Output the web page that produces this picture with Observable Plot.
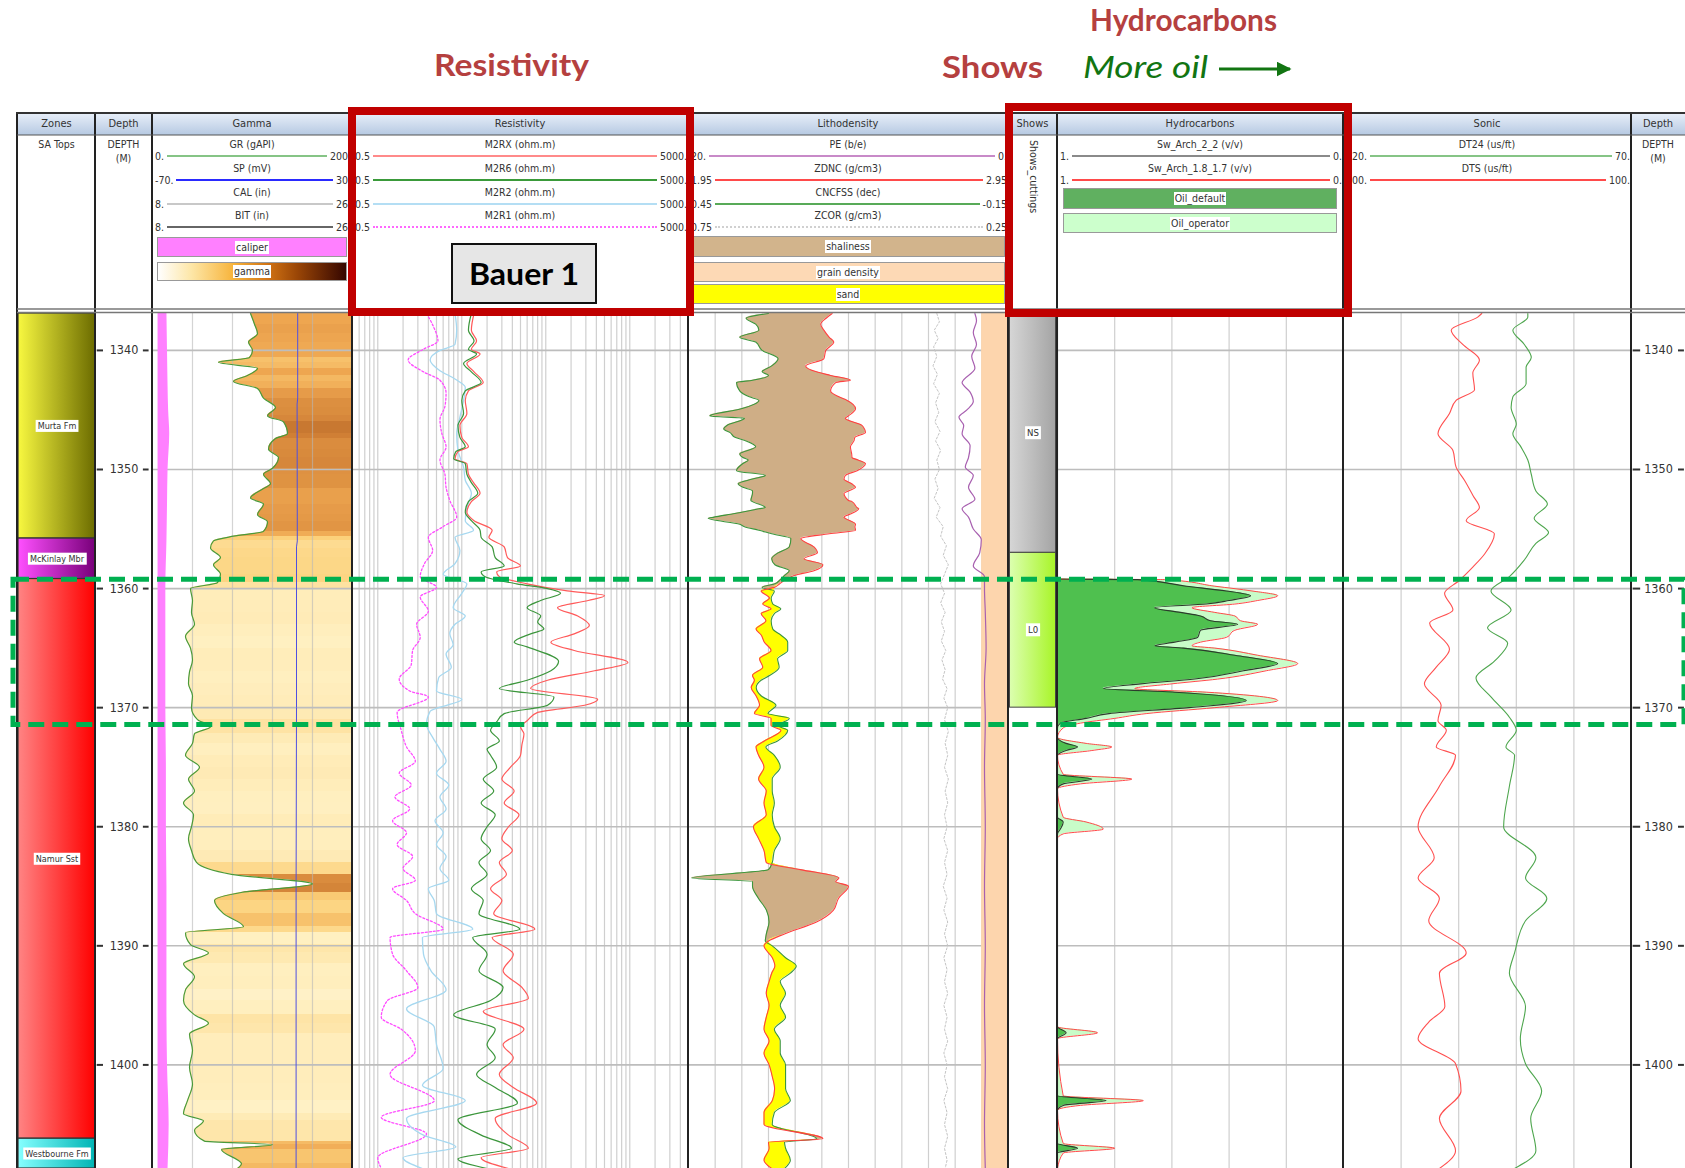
<!DOCTYPE html>
<html><head><meta charset="utf-8">
<script src="https://cdn.jsdelivr.net/npm/d3@7"></script>
<script src="https://cdn.jsdelivr.net/npm/@observablehq/plot@0.6"></script>
<style>
html,body{margin:0;padding:0;background:#fff}
#root{position:relative;width:1685px;height:1168px;overflow:hidden;background:#fff;font-family:"DejaVu Sans Condensed","DejaVu Sans",sans-serif;color:#333}
.a{position:absolute;box-sizing:border-box;white-space:nowrap}
.hd{background:linear-gradient(#e8eff9,#b6c9e2);font-size:11px;line-height:22px;text-align:center;color:#333}
.t{font-size:10.5px;text-align:center;color:#333}
.lr{display:flex;align-items:center;font-size:10.5px;color:#333}
.lr .ln{flex:1;margin:0 3px;height:0}
.box{border:1px solid #999;display:flex;align-items:center;justify-content:center;font-size:10.5px}
.box span{background:#fff;padding:0 1px;line-height:13px}
</style></head>
<body><div id="root"></div>
<script>
// ===================== DATA =====================
const TOP_DEPTH = 1336.9, BASE_DEPTH = 1408.7;
const DEPTH_TICKS = [1340, 1350, 1360, 1370, 1380, 1390, 1400];

const ZONE_NAMES = ["Murta Fm", "McKinlay Mbr", "Namur Sst", "Westbourne Fm"];
const ZONE_TOPS  = [1336.9, 1355.8, 1359.2, 1406.2];
const ZONE_BASES = [1355.8, 1359.2, 1406.2, 1408.7];

const SHOW_NAMES = ["NS", "L0"];
const SHOW_TOPS  = [1336.9, 1357.0];
const SHOW_BASES = [1357.0, 1370.0];

const INTEREST_TOP = 1359.25, INTEREST_BASE = 1371.45;

// Gamma ray [depth, gAPI]
const GR = [[1336.9,98],[1337.8,102],[1338.6,105],[1339.3,96],[1340.0,100],[1340.6,97],[1341.0,66],[1341.5,105],[1342.1,95],[1342.6,81],[1343.2,105],[1344.0,111],[1344.8,123],[1345.5,115],[1346.0,131],[1347.0,135],[1347.4,123],[1348.3,116],[1349.0,126],[1349.9,120],[1350.4,111],[1351.2,118],[1351.6,111],[1352.4,98],[1352.9,111],[1353.8,105],[1354.4,115],[1355.2,111],[1355.6,81],[1356.0,61],[1356.6,58],[1357.4,68],[1358.0,61],[1358.8,68],[1359.5,65],[1360.0,38],[1361.0,40],[1362.0,39],[1363.0,42],[1364.0,33],[1365.0,38],[1366.0,40],[1367.0,37],[1368.0,36],[1369.0,40],[1370.0,39],[1371.0,45],[1371.6,58],[1372.2,42],[1373.0,40],[1374.0,33],[1375.0,47],[1376.0,36],[1377.0,42],[1378.0,31],[1379.0,41],[1380.0,39],[1381.0,36],[1382.0,39],[1383.0,44],[1384.0,79],[1384.8,160],[1385.5,90],[1386.2,62],[1387.3,71],[1388.4,91],[1388.9,33],[1389.9,38],[1390.6,56],[1391.5,31],[1392.6,42],[1393.7,33],[1394.6,31],[1395.8,42],[1396.5,56],[1397.4,37],[1398.8,40],[1400.2,37],[1401.6,40],[1403.0,35],[1404.1,31],[1404.7,51],[1405.5,42],[1406.4,52],[1406.7,120],[1407.1,69],[1408.3,89],[1408.7,85]];
// SP [depth, mV]
const SP = [[1336.9,2.6],[1344.0,2.6],[1344.5,2.3],[1356.0,2.4],[1356.5,2.0],[1370.0,2.0],[1385.0,1.8],[1408.7,1.8]];
// Caliper [depth, in]
const CAL = [[1336.9,9.3],[1340.0,9.35],[1343.0,9.4],[1345.0,9.45],[1347.0,9.55],[1350.0,9.4],[1353.0,9.35],[1356.0,9.3],[1360.0,9.2],[1365.0,9.2],[1370.0,9.2],[1375.0,9.25],[1380.0,9.25],[1385.0,9.3],[1390.0,9.3],[1395.0,9.3],[1400.0,9.35],[1405.0,9.5],[1408.7,9.4]];
const BIT_SIZE = 8.5;

// Resistivity [depth, ohm.m]
const M2RX = [[1336.9,14],[1338.3,13],[1339.2,15],[1339.9,13],[1340.3,16.5],[1341.1,11.5],[1341.8,14],[1342.7,18],[1343.4,12],[1344.2,11],[1345.3,11.5],[1346.3,9.5],[1347.3,10],[1348.1,12],[1348.5,9],[1349.1,8.3],[1349.5,11.5],[1350.4,12],[1351.1,13.8],[1352.0,16.5],[1352.7,13],[1353.6,11.5],[1354.3,14],[1355.1,23],[1355.7,21],[1356.5,32],[1357.4,35],[1358.1,50],[1358.6,26],[1359.0,28],[1359.6,60],[1360.2,180],[1360.6,500],[1361.0,320],[1361.6,138],[1362.3,240],[1363.1,330],[1363.8,218],[1364.5,115],[1365.2,218],[1366.2,950],[1366.9,380],[1367.7,105],[1368.4,66],[1369.3,415],[1369.8,290],[1370.4,80],[1371.1,60],[1371.6,50],[1372.2,55],[1373.1,52],[1374.0,50],[1375.0,38],[1376.0,30],[1377.0,42],[1378.0,32],[1379.0,48],[1380.0,36],[1381.0,30],[1382.0,40],[1383.0,28],[1384.0,34],[1385.2,22],[1386.2,30],[1387.3,24],[1388.6,74],[1389.3,23],[1390.7,41],[1392.1,31],[1393.5,52],[1394.4,62],[1395.5,18],[1397.0,55],[1398.3,31],[1399.4,41],[1400.8,28],[1401.9,41],[1403.2,78],[1404.5,25],[1405.9,36],[1407.0,62],[1407.8,17],[1408.7,36]];
const M2R6 = [[1336.9,13],[1338.3,12],[1339.2,14],[1339.9,12],[1340.3,15],[1341.1,10.5],[1341.8,13],[1342.7,17],[1343.4,11],[1344.2,10],[1345.3,10.5],[1346.3,9],[1347.3,9.5],[1348.1,11],[1348.5,8.5],[1349.1,8],[1349.5,11],[1350.4,11.5],[1351.1,13],[1352.0,15.5],[1352.7,12],[1353.6,11],[1354.3,13],[1355.1,16.5],[1355.7,17],[1356.5,23],[1357.4,25],[1358.1,32],[1358.6,17],[1359.0,19],[1359.6,45],[1360.0,105],[1360.4,150],[1361.0,87],[1361.6,60],[1362.3,87],[1362.8,80],[1363.4,95],[1363.8,66],[1364.5,42],[1364.9,60],[1366.1,142],[1366.9,115],[1367.7,60],[1368.4,28],[1369.1,125],[1369.8,105],[1370.5,32],[1371.2,26],[1371.9,22],[1372.8,28],[1373.5,20],[1374.0,22],[1375.0,26],[1376.0,18],[1377.0,24],[1378.0,17],[1379.0,25],[1380.0,20],[1381.0,17],[1382.0,22],[1383.0,16],[1384.0,20],[1385.2,13],[1386.2,18],[1387.3,16],[1388.6,49],[1389.3,13.5],[1390.7,20],[1392.1,16],[1393.5,31],[1394.6,22],[1395.8,8],[1397.0,25],[1398.3,20],[1399.4,25],[1400.8,15],[1401.9,25],[1403.2,46],[1404.6,9],[1405.9,17],[1407.0,39],[1407.9,9],[1408.7,20]];
const M2R2 = [[1336.9,8.3],[1338.3,8.7],[1339.5,8.3],[1340.0,5.5],[1340.8,4.2],[1341.7,5.5],[1342.4,8.3],[1343.1,11],[1344.2,10.5],[1345.6,9.5],[1347.0,8.7],[1348.4,9],[1349.8,10.5],[1350.9,11],[1352.0,13],[1353.2,11.5],[1354.3,11],[1355.1,13.8],[1355.7,8.3],[1356.8,9.5],[1357.9,8.3],[1358.8,6],[1359.6,11.5],[1360.4,10],[1361.6,7.9],[1362.3,11],[1363.0,8.3],[1363.8,7.2],[1364.7,7.9],[1365.5,6.5],[1366.6,7.5],[1367.5,5.3],[1368.6,5],[1369.3,10],[1370.3,4.2],[1371.4,3.8],[1372.5,4.5],[1373.5,5.5],[1374.5,6.5],[1375.5,5],[1376.5,7],[1377.5,5.5],[1378.5,6.5],[1379.5,4.8],[1380.5,6],[1381.5,5],[1382.5,6.5],[1383.5,5.5],[1384.5,7],[1385.2,4],[1386.2,4.7],[1387.3,5],[1388.6,13.5],[1389.3,3.4],[1390.7,3.5],[1392.1,4.3],[1393.7,6.5],[1395.3,2.2],[1396.8,4.7],[1398.3,5],[1400.3,6],[1401.7,3.4],[1403.0,11],[1404.5,2.2],[1405.9,3.5],[1406.9,8.5],[1407.8,2],[1408.7,3.4]];
const M2R1 = [[1336.9,3.8],[1338.0,4.6],[1339.2,5.2],[1339.9,3.5],[1340.8,2.3],[1341.8,3.5],[1342.5,5.5],[1343.6,6.5],[1344.7,6.3],[1345.8,5.5],[1347.0,5.8],[1348.1,6.5],[1349.2,5.5],[1350.4,6.3],[1351.5,6.5],[1352.6,7.2],[1354.0,8.7],[1354.8,6],[1355.7,4],[1356.8,4.5],[1357.9,3.6],[1359.0,3.2],[1359.9,5],[1360.7,3.2],[1361.9,4],[1363.0,2.9],[1364.1,3.2],[1365.2,2.6],[1366.4,2.5],[1367.6,1.8],[1368.6,2.4],[1369.1,4],[1370.4,1.7],[1371.9,1.9],[1373.3,2.2],[1374.5,2.8],[1375.5,1.8],[1376.5,2.5],[1377.5,1.6],[1378.5,2.4],[1379.5,1.5],[1380.5,2.2],[1381.5,1.7],[1382.5,2.6],[1383.5,2],[1384.5,2.8],[1385.2,1.5],[1386.2,2.2],[1387.3,2.8],[1388.6,6],[1389.3,1.4],[1390.7,1.5],[1392.1,2.2],[1393.5,3],[1394.6,1.3],[1396.0,1.1],[1397.0,1.9],[1398.8,2.8],[1400.8,1.4],[1403.0,4.7],[1404.4,1.1],[1405.8,3.8],[1407.8,1.0],[1408.7,1.1]];

// Lithodensity rows [depth, ZDNC g/cm3, CNCFSS dec]
const LITHO = [[1336.9,2.399,0.300],[1337.3,2.380,0.342],[1337.8,2.363,0.324],[1338.3,2.373,0.318],[1338.9,2.390,0.354],[1339.3,2.404,0.324],[1340.0,2.379,0.312],[1340.7,2.373,0.282],[1341.3,2.316,0.294],[1341.8,2.350,0.312],[1342.1,2.394,0.300],[1342.5,2.456,0.330],[1342.7,2.410,0.360],[1343.4,2.394,0.354],[1343.9,2.420,0.336],[1344.2,2.446,0.318],[1344.9,2.472,0.351],[1345.5,2.450,0.410],[1345.7,2.440,0.345],[1346.3,2.492,0.378],[1346.6,2.500,0.384],[1346.9,2.503,0.372],[1347.3,2.470,0.363],[1347.6,2.467,0.342],[1348.1,2.456,0.324],[1348.7,2.460,0.354],[1349.0,2.461,0.348],[1349.2,2.480,0.338],[1349.5,2.503,0.348],[1350.1,2.477,0.360],[1350.5,2.440,0.306],[1350.8,2.436,0.330],[1351.2,2.460,0.357],[1351.5,2.472,0.348],[1351.8,2.450,0.330],[1352.0,2.436,0.330],[1352.6,2.450,0.333],[1352.7,2.461,0.330],[1353.2,2.477,0.306],[1353.3,2.482,0.318],[1353.7,2.460,0.363],[1354.0,2.436,0.402],[1354.1,2.440,0.413],[1354.6,2.472,0.354],[1354.8,2.470,0.345],[1355.1,2.472,0.318],[1355.4,2.390,0.294],[1355.8,2.301,0.258],[1356.5,2.342,0.261],[1357.0,2.353,0.282],[1357.5,2.311,0.294],[1358.0,2.370,0.288],[1358.5,2.342,0.261],[1358.9,2.280,0.270],[1359.3,2.250,0.279],[1359.6,2.235,0.288],[1359.9,2.218,0.312],[1360.2,2.177,0.289],[1360.8,2.203,0.295],[1361.3,2.182,0.292],[1361.7,2.208,0.277],[1362.1,2.177,0.289],[1362.7,2.192,0.295],[1363.4,2.161,0.292],[1363.9,2.177,0.277],[1364.5,2.187,0.264],[1365.2,2.208,0.264],[1365.9,2.172,0.283],[1366.6,2.182,0.280],[1367.3,2.150,0.298],[1367.7,2.156,0.314],[1368.3,2.146,0.323],[1369.0,2.161,0.314],[1369.8,2.172,0.286],[1370.5,2.156,0.301],[1370.9,2.208,0.261],[1371.5,2.208,0.283],[1371.9,2.239,0.264],[1372.8,2.187,0.283],[1373.3,2.161,0.305],[1374.0,2.169,0.289],[1375.0,2.186,0.278],[1376.0,2.169,0.293],[1377.0,2.193,0.293],[1378.0,2.186,0.289],[1379.0,2.193,0.293],[1380.0,2.153,0.289],[1381.0,2.169,0.278],[1382.0,2.186,0.289],[1383.0,2.193,0.293],[1383.6,2.300,0.300],[1384.3,2.420,0.444],[1384.6,2.410,0.330],[1385.0,2.450,0.330],[1386.0,2.419,0.319],[1387.0,2.403,0.304],[1388.0,2.350,0.299],[1389.0,2.250,0.304],[1389.6,2.200,0.306],[1390.0,2.186,0.293],[1391.0,2.212,0.268],[1391.7,2.220,0.248],[1392.3,2.210,0.259],[1393.0,2.202,0.278],[1394.0,2.193,0.268],[1395.0,2.202,0.278],[1396.0,2.193,0.268],[1397.0,2.186,0.289],[1398.0,2.202,0.278],[1399.0,2.186,0.278],[1400.0,2.202,0.268],[1401.0,2.212,0.268],[1402.0,2.219,0.268],[1403.0,2.212,0.259],[1404.0,2.186,0.289],[1405.0,2.186,0.293],[1406.2,2.370,0.210],[1406.5,2.200,0.270],[1407.0,2.202,0.268],[1408.0,2.186,0.259],[1408.7,2.210,0.270]];
// PE [depth, b/e]
const PE = [[1336.9,2.1],[1337.5,2.0],[1338.5,2.2],[1339.5,2.0],[1340.5,2.3],[1341.5,2.1],[1342.7,2.9],[1343.5,2.4],[1344.3,2.2],[1345.0,2.6],[1345.6,3.1],[1346.3,2.8],[1347.0,2.9],[1348.0,2.4],[1349.0,2.5],[1349.8,2.7],[1350.5,2.2],[1351.5,2.5],[1352.5,2.1],[1353.3,2.9],[1354.0,2.5],[1355.0,2.2],[1355.9,1.7],[1357.0,1.8],[1358.1,2.2],[1359.0,1.5],[1360.0,1.5],[1362.0,1.45],[1365.0,1.4],[1368.0,1.5],[1371.0,1.45],[1375.0,1.5],[1380.0,1.45],[1385.0,1.5],[1390.0,1.45],[1395.0,1.5],[1400.0,1.45],[1405.0,1.5],[1408.7,1.45]];
// ZCOR [depth, g/cm3]
const ZCOR = [[1336.9,0.362],[1337.6,0.358],[1338.3,0.366],[1339.0,0.360],[1339.7,0.367],[1340.5,0.362],[1341.3,0.368],[1342.0,0.361],[1342.8,0.367],[1343.6,0.358],[1344.4,0.364],[1345.2,0.359],[1346.0,0.365],[1346.8,0.357],[1347.6,0.364],[1348.4,0.356],[1349.2,0.362],[1350.0,0.358],[1350.8,0.365],[1351.6,0.360],[1352.4,0.366],[1353.2,0.357],[1354.0,0.363],[1354.8,0.352],[1355.6,0.356],[1356.4,0.347],[1357.2,0.352],[1358.0,0.344],[1358.8,0.350],[1359.6,0.356],[1360.4,0.350],[1361.2,0.356],[1362.0,0.349],[1362.8,0.355],[1363.6,0.350],[1364.4,0.355],[1365.2,0.348],[1366.0,0.354],[1366.8,0.349],[1367.6,0.353],[1368.4,0.346],[1369.2,0.351],[1370.0,0.345],[1371.0,0.350],[1372.0,0.344],[1373.0,0.349],[1374.0,0.345],[1375.0,0.350],[1376.0,0.344],[1377.0,0.349],[1378.0,0.345],[1379.0,0.350],[1380.0,0.346],[1381.0,0.351],[1382.0,0.345],[1383.0,0.350],[1384.0,0.346],[1385.0,0.352],[1386.0,0.346],[1387.0,0.351],[1388.0,0.345],[1389.0,0.350],[1390.0,0.345],[1391.0,0.351],[1392.0,0.346],[1393.0,0.350],[1394.0,0.345],[1395.0,0.351],[1396.0,0.346],[1397.0,0.350],[1398.0,0.345],[1399.0,0.351],[1400.0,0.346],[1401.0,0.350],[1402.0,0.345],[1403.0,0.351],[1404.0,0.346],[1405.0,0.350],[1406.0,0.345],[1407.0,0.350],[1408.0,0.346],[1408.7,0.349]];
// Grain density [depth, g/cm3]
const GRAIN_DENSITY = [[1336.9,2.866],[1408.7,2.866]];

// Hydrocarbons [depth, Sw_Arch_2_2, Sw_Arch_1.8_1.7]
const SW = [[1336.9,1,1],[1359.2,1,1],[1359.25,0.72,0.62],[1359.8,0.55,0.45],[1360.2,0.41,0.32],[1360.6,0.325,0.23],[1361.0,0.40,0.30],[1361.3,0.48,0.38],[1361.6,0.66,0.53],[1362.0,0.57,0.45],[1362.3,0.50,0.38],[1362.7,0.465,0.36],[1363.0,0.37,0.30],[1363.5,0.50,0.38],[1364.1,0.51,0.41],[1364.5,0.59,0.50],[1364.8,0.66,0.53],[1365.0,0.56,0.45],[1365.6,0.38,0.30],[1366.3,0.23,0.16],[1366.9,0.35,0.27],[1367.6,0.52,0.44],[1368.0,0.71,0.60],[1368.4,0.84,0.73],[1368.7,0.59,0.48],[1369.4,0.34,0.23],[1370.0,0.54,0.45],[1370.5,0.82,0.69],[1370.9,0.90,0.80],[1371.3,0.99,0.92],[1371.7,1,0.98],[1372.5,1,1],[1373.0,0.97,0.90],[1373.3,0.93,0.81],[1373.6,0.97,0.88],[1374.0,1,1],[1375.6,1,0.98],[1376.0,0.88,0.74],[1376.4,0.98,0.92],[1376.8,1,1],[1379.2,1,0.98],[1379.6,0.98,0.90],[1380.2,0.99,0.84],[1380.6,1,0.98],[1381.0,1,1],[1396.8,1,1],[1397.3,0.97,0.86],[1397.8,1,1],[1402.6,1,0.98],[1403.0,0.83,0.70],[1403.4,0.98,0.92],[1403.8,1,1],[1406.6,1,0.98],[1407.0,0.93,0.80],[1407.4,1,0.98],[1408.7,1,1]];

// Sonic [depth, us/ft]
const DT24 = [[1336.9,88.0],[1337.2,88.0],[1338.3,90.6],[1339.5,88.6],[1340.6,87.4],[1341.4,88.3],[1342.8,88.3],[1343.9,90.6],[1344.8,90.9],[1346.2,90.0],[1347.0,90.6],[1348.1,89.2],[1349.2,88.0],[1350.4,87.4],[1351.8,86.6],[1352.9,84.6],[1354.1,86.9],[1355.3,84.4],[1356.2,86.6],[1357.6,88.6],[1359.0,91.2],[1360.2,94.4],[1361.8,90.9],[1363.3,95.0],[1364.6,91.5],[1366.1,93.8],[1367.5,97.0],[1369.1,94.4],[1370.8,91.2],[1371.9,90.0],[1373.3,91.8],[1374.0,90.3],[1376.6,91.2],[1380.0,92.2],[1382.6,86.6],[1384.3,88.4],[1386.0,84.7],[1387.9,88.4],[1390.6,90.3],[1392.3,91.2],[1395.1,88.4],[1397.8,89.3],[1399.9,88.4],[1402.2,85.6],[1404.5,87.5],[1407.2,86.6],[1408.7,90.3]];
const DTS = [[1336.9,152.0],[1337.2,153.4],[1338.3,162.6],[1339.5,158.6],[1340.8,152.8],[1341.9,155.1],[1343.3,154.5],[1344.2,160.9],[1345.3,163.2],[1347.0,167.2],[1348.4,162.0],[1349.8,160.9],[1350.9,158.0],[1352.2,155.0],[1353.2,152.8],[1354.3,157.4],[1355.4,147.6],[1357.1,151.0],[1358.2,155.1],[1359.3,159.7],[1360.4,164.9],[1361.8,162.0],[1362.9,170.1],[1365.1,163.2],[1366.6,167.8],[1368.0,171.9],[1369.8,166.1],[1371.1,167.2],[1371.9,164.3],[1373.3,167.8],[1374.0,161.1],[1376.6,166.7],[1380.0,174.1],[1382.6,168.5],[1384.3,174.1],[1386.0,166.7],[1387.9,170.4],[1390.6,157.4],[1392.3,166.7],[1395.1,164.8],[1396.4,170.4],[1397.8,174.1],[1399.9,161.1],[1402.2,159.2],[1404.5,166.7],[1407.2,161.1],[1408.7,166.7]];

// ===================== LAYOUT =====================
const root = document.getElementById("root");
const H = 855, DATA_TOP = 313;
const TR = {
  zones:{x0:18,x1:95,title:"Zones"}, depthL:{x0:95,x1:152,title:"Depth"}, gamma:{x0:152,x1:352,title:"Gamma"},
  res:{x0:352,x1:688,title:"Resistivity"}, litho:{x0:688,x1:1008,title:"Lithodensity"}, shows:{x0:1008,x1:1057,title:"Shows"},
  hc:{x0:1057,x1:1343,title:"Hydrocarbons"}, sonic:{x0:1343,x1:1631,title:"Sonic"}, depthR:{x0:1631,x1:1685,title:"Depth"}
};
const FONT = "'DejaVu Sans Condensed','DejaVu Sans',sans-serif";
const CURVE = "monotone-y";
const depthY = d3.scaleLinear([TOP_DEPTH, BASE_DEPTH], [DATA_TOP, DATA_TOP + H]);

function add(tag, cls, css, html) {
  const e = document.createElement(tag);
  if (cls) e.className = cls;
  Object.assign(e.style, css);
  if (html != null) e.innerHTML = html;
  root.appendChild(e);
  return e;
}
function trackPlot(t, xOpt, marks, extra = {}) {
  const w = t.x1 - t.x0;
  const svg = Plot.plot({
    width: w, height: H, marginTop: 0, marginRight: 0, marginBottom: 0, marginLeft: 0,
    style: {background: "transparent", fontFamily: FONT, overflow: "visible"},
    x: {range: [0, w], axis: null, ...xOpt},
    y: {domain: [TOP_DEPTH, BASE_DEPTH], range: [0, H], axis: null},
    marks, ...extra
  });
  svg.style.position = "absolute";
  svg.style.left = t.x0 + "px";
  svg.style.top = DATA_TOP + "px";
  svg.style.maxWidth = "none";
  root.appendChild(svg);
  return svg;
}
const hGrid = () => Plot.ruleY(DEPTH_TICKS, {stroke: "#bdbdbd", strokeWidth: 1.6});
const vGrid = (vals) => Plot.ruleX(vals, {stroke: "#cfcfcf", strokeWidth: 1.2});
function labelBoxes(svg) {
  svg.querySelectorAll("text").forEach(tx => {
    const b = tx.getBBox();
    const r = document.createElementNS("http://www.w3.org/2000/svg", "rect");
    r.setAttribute("x", b.x - 2); r.setAttribute("y", b.y - 1);
    r.setAttribute("width", b.width + 4); r.setAttribute("height", b.height + 2);
    r.setAttribute("fill", "#fff");
    const tf = tx.getAttribute("transform");
    if (tf) r.setAttribute("transform", tf);
    tx.parentNode.insertBefore(r, tx);
  });
}
function addGradients(svg, defsList) {
  const defs = d3.select(svg).insert("defs", ":first-child");
  defsList.forEach(([id, c0, c1]) => {
    const g = defs.append("linearGradient").attr("id", id).attr("x1", "0").attr("x2", "1").attr("y1", "0").attr("y2", "0");
    g.append("stop").attr("offset", "0").attr("stop-color", c0);
    g.append("stop").attr("offset", "1").attr("stop-color", c1);
  });
}

// ---------- Zones ----------
const ZONE_STYLE = [["zg0", "#f8f840", "#6c6c00"], ["zg1", "#ff50ff", "#78007a"], ["zg2", "#ff8484", "#ff0000"], ["zg3", "#86ffff", "#00b4b4"]];
const zoneRows = ZONE_NAMES.map((n, i) => ({name: n, top: ZONE_TOPS[i], base: ZONE_BASES[i], mid: (ZONE_TOPS[i] + ZONE_BASES[i]) / 2}));
{
  const svg = trackPlot(TR.zones, {domain: [0, 1]}, [
    ...zoneRows.map((z, i) => Plot.rect([z], {x1: 0, x2: 1, y1: "top", y2: "base", fill: `url(#${ZONE_STYLE[i][0]})`, stroke: "#333", strokeWidth: 1.2})),
    Plot.text(zoneRows, {x: 0.5, y: "mid", text: "name", fontSize: 9, fill: "#333"})
  ]);
  addGradients(svg, ZONE_STYLE);
  labelBoxes(svg);
}
// ---------- Depth tracks ----------
function depthTrack(t, a, b) {
  trackPlot(t, {domain: [0, 1]}, [
    Plot.ruleY(DEPTH_TICKS, {x1: a[0], x2: a[1], stroke: "#333", strokeWidth: 2}),
    Plot.ruleY(DEPTH_TICKS, {x1: b[0], x2: b[1], stroke: "#333", strokeWidth: 2}),
    Plot.text(DEPTH_TICKS, {x: 0.5, y: d => d, text: d => String(d), fontSize: 12.5, fill: "#333"})
  ]);
}
depthTrack(TR.depthL, [0.03, 0.14], [0.84, 0.94]);
depthTrack(TR.depthR, [0.03, 0.17], [0.87, 0.98]);

// ---------- Gamma ----------
{
  const calToGR = d3.scaleLinear([8, 26], [0, 200]);
  const spToGR = d3.scaleLinear([-70, 30], [0, 200]);
  const stripes = GR.slice(0, -1).map((d, i) => ({top: d[0], base: GR[i + 1][0], gr: (d[1] + GR[i + 1][1]) / 2}));
  trackPlot(TR.gamma, {domain: [0, 200]}, [
    Plot.rect(stripes, {x1: 0, x2: 200, y1: "top", y2: "base", fill: "gr", shapeRendering: "crispEdges"}),
    Plot.areaX(GR, {y: d => d[0], x1: 0, x2: d => d[1], fill: "white", curve: CURVE}),
    Plot.ruleX([40, 80, 120, 160], {stroke: "#b8b8b8", strokeOpacity: 0.6, strokeWidth: 1.2}),
    hGrid(),
    Plot.areaX(CAL, {y: d => d[0], x1: calToGR(BIT_SIZE), x2: d => calToGR(d[1]), fill: "#ff80ff", curve: CURVE}),
    Plot.line(SP, {x: d => spToGR(d[1]), y: d => d[0], stroke: "#5050e0", strokeWidth: 1}),
    Plot.line(GR, {x: d => d[1], y: d => d[0], stroke: "#4a9a3a", strokeWidth: 1.2, curve: CURVE})
  ], {color: {type: "linear", domain: [0, 35, 70, 100, 130, 165, 200], range: ["#ffffff", "#fff0c2", "#fcd27c", "#eea650", "#cf7e34", "#7e3a12", "#2a0600"], interpolate: "rgb"}});
}
// ---------- Resistivity ----------
{
  const grid = [];
  for (const dec of [0.1, 1, 10, 100, 1000]) for (let k = 1; k <= 9; k++) { const v = +(k * dec).toPrecision(2); if (v > 0.5 && v < 5000) grid.push(v); }
  trackPlot(TR.res, {type: "log", domain: [0.5, 5000]}, [
    vGrid(grid),
    hGrid(),
    Plot.line(M2R1, {x: d => d[1], y: d => d[0], stroke: "#ff4cff", strokeWidth: 1.3, strokeDasharray: "2,2", curve: CURVE}),
    Plot.line(M2R2, {x: d => d[1], y: d => d[0], stroke: "#a6d8f0", strokeWidth: 1.3, curve: CURVE}),
    Plot.line(M2RX, {x: d => d[1], y: d => d[0], stroke: "#ff5a5a", strokeWidth: 1.2, curve: CURVE}),
    Plot.line(M2R6, {x: d => d[1], y: d => d[0], stroke: "#3c963c", strokeWidth: 1.2, curve: CURVE})
  ]);
}
// ---------- Lithodensity ----------
{
  const cn = d3.scaleLinear([0.45, -0.15], [1.95, 2.95]);
  const pe = d3.scaleLinear([20, 0], [1.95, 2.95]);
  const zc = d3.scaleLinear([0.75, 0.25], [1.95, 2.95]);
  trackPlot(TR.litho, {domain: [1.95, 2.95]}, [
    vGrid(d3.range(1, 12).map(i => 1.95 + i / 12)),
    hGrid(),
    Plot.areaX(GRAIN_DENSITY, {y: d => d[0], x1: d => d[1], x2: 2.95, fill: "#fdd5ad"}),
    Plot.areaX(LITHO, {y: d => d[0], x1: d => cn(d[2]), x2: d => Math.max(cn(d[2]), d[1]), fill: "#cfae86", curve: CURVE}),
    Plot.areaX(LITHO, {y: d => d[0], x1: d => d[1], x2: d => Math.max(cn(d[2]), d[1]), fill: "#ffff00", curve: CURVE}),
    Plot.line(ZCOR, {x: d => zc(d[1]), y: d => d[0], stroke: "#c4c4c4", strokeWidth: 1, strokeDasharray: "2,2"}),
    Plot.line(PE, {x: d => pe(d[1]), y: d => d[0], stroke: "#a860b0", strokeWidth: 1.2, curve: CURVE}),
    Plot.line(LITHO, {x: d => cn(d[2]), y: d => d[0], stroke: "#3c963c", strokeWidth: 1.1, curve: CURVE}),
    Plot.line(LITHO, {x: d => d[1], y: d => d[0], stroke: "#ff4040", strokeWidth: 1.1, curve: CURVE})
  ]);
}
// ---------- Shows ----------
{
  const SHOW_STYLE = [["sg0", "#d6d6d6", "#a4a4a4"], ["sg1", "#dcffb0", "#a8f428"]];
  const rows = SHOW_NAMES.map((n, i) => ({name: n, top: SHOW_TOPS[i], base: SHOW_BASES[i], mid: (SHOW_TOPS[i] + SHOW_BASES[i]) / 2}));
  const svg = trackPlot(TR.shows, {domain: [0, 1]}, [
    ...rows.map((r, i) => Plot.rect([r], {x1: 0.03, x2: 0.97, y1: "top", y2: "base", fill: `url(#${SHOW_STYLE[i][0]})`, stroke: "#444", strokeWidth: 1})),
    Plot.text(rows, {x: 0.5, y: "mid", text: "name", fontSize: 9.5, fill: "#333"})
  ]);
  addGradients(svg, SHOW_STYLE);
  labelBoxes(svg);
}
// ---------- Hydrocarbons ----------
trackPlot(TR.hc, {domain: [1, 0]}, [
  vGrid([0.8, 0.6, 0.4, 0.2]),
  hGrid(),
  Plot.areaX(SW, {y: d => d[0], x1: 1, x2: d => d[2], fill: "#c8fcc8", curve: CURVE}),
  Plot.areaX(SW, {y: d => d[0], x1: 1, x2: d => d[1], fill: "#4fc04f", curve: CURVE}),
  Plot.line(SW, {x: d => d[2], y: d => d[0], stroke: "#ff4a4a", strokeWidth: 1, curve: CURVE}),
  Plot.line(SW, {x: d => d[1], y: d => d[0], stroke: "#2c3c2c", strokeWidth: 1.1, curve: CURVE})
]);
// ---------- Sonic ----------
{
  const dts = d3.scaleLinear([200, 100], [120, 70]);
  trackPlot(TR.sonic, {domain: [120, 70]}, [
    vGrid([110, 100, 90, 80]),
    hGrid(),
    Plot.line(DTS, {x: d => dts(d[1]), y: d => d[0], stroke: "#ff5050", strokeWidth: 1.1, curve: CURVE}),
    Plot.line(DT24, {x: d => d[1], y: d => d[0], stroke: "#4ea64e", strokeWidth: 1.1, curve: CURVE})
  ]);
}

// ===================== HEADER =====================
for (const k in TR) {
  const t = TR[k];
  add("div", "a hd", {left: t.x0 + "px", top: "113px", width: (t.x1 - t.x0) + "px", height: "22px"}, t.title);
}
function centerText(t, y, txt) {
  add("div", "a t", {left: t.x0 + "px", width: (t.x1 - t.x0) + "px", top: (y - 7) + "px", lineHeight: "14px"}, txt);
}
function legendCurve(t, row, name, lo, hi, color, style) {
  const yName = 144 + 23.8 * row, yLine = 156 + 23.8 * row;
  centerText(t, yName, name);
  add("div", "a lr", {left: (t.x0 + 3) + "px", width: (t.x1 - t.x0 - 4) + "px", top: (yLine - 7) + "px", height: "14px"},
    `<span>${lo}</span><span class="ln" style="border-top:2px ${style || "solid"} ${color}"></span><span>${hi}</span>`);
}
function legendBox(t, y0, y1, label, bg, pad = 5) {
  add("div", "a box", {left: (t.x0 + pad) + "px", width: (t.x1 - t.x0 - 2 * pad) + "px", top: y0 + "px", height: (y1 - y0) + "px", background: bg}, `<span>${label}</span>`);
}
centerText(TR.zones, 144, "SA Tops");
centerText(TR.depthL, 144, "DEPTH"); centerText(TR.depthL, 158, "(M)");
centerText(TR.depthR, 144, "DEPTH"); centerText(TR.depthR, 158, "(M)");
legendCurve(TR.gamma, 0, "GR (gAPI)", "0.", "200.", "#86c486");
legendCurve(TR.gamma, 1, "SP (mV)", "-70.", "30.", "#2a2aff");
legendCurve(TR.gamma, 2, "CAL (in)", "8.", "26.", "#c8c8c8");
legendCurve(TR.gamma, 3, "BIT (in)", "8.", "26.", "#666");
legendBox(TR.gamma, 237, 257, "caliper", "#ff80ff");
legendBox(TR.gamma, 262, 281, "gamma", "linear-gradient(to right,#ffffff,#fde6a6 18%,#f7b43c 40%,#d27414 58%,#9a4606 74%,#350600)");
legendCurve(TR.res, 0, "M2RX (ohm.m)", "0.5", "5000.", "#ff8a8a");
legendCurve(TR.res, 1, "M2R6 (ohm.m)", "0.5", "5000.", "#3a9a3a");
legendCurve(TR.res, 2, "M2R2 (ohm.m)", "0.5", "5000.", "#b4def4");
legendCurve(TR.res, 3, "M2R1 (ohm.m)", "0.5", "5000.", "#ff66ff", "dotted");
legendCurve(TR.litho, 0, "PE (b/e)", "20.", "0.", "#c88ac8");
legendCurve(TR.litho, 1, "ZDNC (g/cm3)", "1.95", "2.95", "#ff4a4a");
legendCurve(TR.litho, 2, "CNCFSS (dec)", "0.45", "-0.15", "#58aa58");
legendCurve(TR.litho, 3, "ZCOR (g/cm3)", "0.75", "0.25", "#d0d0d0", "dotted");
legendBox(TR.litho, 236, 257, "shaliness", "#d2b48c", 3);
legendBox(TR.litho, 262, 282, "grain density", "#fdd9b5", 3);
legendBox(TR.litho, 284, 304, "sand", "#ffff00", 3);
add("div", "a t", {left: "1027px", top: "140px", writingMode: "vertical-rl", fontSize: "10.5px", lineHeight: "14px"}, "Shows_cuttings");
legendCurve(TR.hc, 0, "Sw_Arch_2_2 (v/v)", "1.", "0.", "#8a8a8a");
legendCurve(TR.hc, 1, "Sw_Arch_1.8_1.7 (v/v)", "1.", "0.", "#ff4a4a");
legendBox(TR.hc, 188, 209, "Oil_default", "#60b060", 6);
legendBox(TR.hc, 213, 233, "Oil_operator", "#ccffcc", 6);
legendCurve(TR.sonic, 0, "DT24 (us/ft)", "120.", "70.", "#86c486");
legendCurve(TR.sonic, 1, "DTS (us/ft)", "200.", "100.", "#ff4a4a");

// ===================== OVERLAY (frame, annotations) =====================
const ov = d3.select(root).append("svg").attr("width", 1685).attr("height", 1168)
  .style("position", "absolute").style("left", 0).style("top", 0).style("pointer-events", "none");
const seps = [17, 95, 152, 352, 688, 1008, 1057, 1343, 1631];
ov.selectAll(".sep").data(seps).join("line").attr("x1", d => d).attr("x2", d => d).attr("y1", 113).attr("y2", 1168).attr("stroke", "#222").attr("stroke-width", 2);
ov.append("line").attr("x1", 16).attr("x2", 1685).attr("y1", 113).attr("y2", 113).attr("stroke", "#333").attr("stroke-width", 2);
ov.append("line").attr("x1", 17).attr("x2", 1685).attr("y1", 135).attr("y2", 135).attr("stroke", "#555").attr("stroke-width", 1.2);
ov.append("line").attr("x1", 17).attr("x2", 1685).attr("y1", 309).attr("y2", 309).attr("stroke", "#777").attr("stroke-width", 1.5);
ov.append("line").attr("x1", 17).attr("x2", 1685).attr("y1", 312.5).attr("y2", 312.5).attr("stroke", "#777").attr("stroke-width", 1.5);

// Bauer 1 label
ov.append("rect").attr("x", 452).attr("y", 244).attr("width", 144).attr("height", 59).attr("fill", "#e6e6e6").attr("stroke", "#111").attr("stroke-width", 2);
ov.append("text").attr("x", 524).attr("y", 285).attr("text-anchor", "middle").attr("font-family", "Lato,'Open Sans',sans-serif").attr("font-weight", 700).attr("font-size", 31).attr("fill", "#000").attr("textLength", 110).attr("lengthAdjust", "spacingAndGlyphs").text("Bauer 1");

// red highlight boxes
ov.append("rect").attr("x", 352).attr("y", 111).attr("width", 338).attr("height", 201).attr("fill", "none").attr("stroke", "#c00000").attr("stroke-width", 8);
ov.append("rect").attr("x", 1009).attr("y", 107).attr("width", 339).attr("height", 206).attr("fill", "none").attr("stroke", "#c00000").attr("stroke-width", 8);

// zone of interest dashed box
ov.append("rect").attr("x", 13).attr("y", depthY(INTEREST_TOP)).attr("width", 1671).attr("height", depthY(INTEREST_BASE) - depthY(INTEREST_TOP))
  .attr("fill", "none").attr("stroke", "#00b050").attr("stroke-width", 5).attr("stroke-dasharray", "16,8");

// titles
const titleFont = "Lato,'Open Sans',sans-serif";
function title(x, y, w, txt, color, italic, bold = true) {
  ov.append("text").attr("x", x).attr("y", y).attr("font-family", titleFont).attr("font-weight", bold ? 700 : 400)
    .attr("font-style", italic ? "italic" : "normal").attr("font-size", 30).attr("fill", color)
    .attr("textLength", w).attr("lengthAdjust", "spacingAndGlyphs").text(txt);
}
title(434, 76, 155, "Resistivity", "#b5403f");
title(942, 78, 101, "Shows", "#b5403f");
title(1090, 31, 187, "Hydrocarbons", "#b5403f");
title(1083, 78, 125, "More oil", "#127512", true, false);
ov.append("defs").append("marker").attr("id", "arr").attr("viewBox", "0 0 10 10").attr("refX", 9).attr("refY", 5)
  .attr("markerWidth", 5).attr("markerHeight", 5).attr("orient", "auto").append("path").attr("d", "M0,0L10,5L0,10z").attr("fill", "#127512");
ov.append("line").attr("x1", 1219).attr("x2", 1290).attr("y1", 69).attr("y2", 69).attr("stroke", "#127512").attr("stroke-width", 3).attr("marker-end", "url(#arr)");
</script>
</body></html>
